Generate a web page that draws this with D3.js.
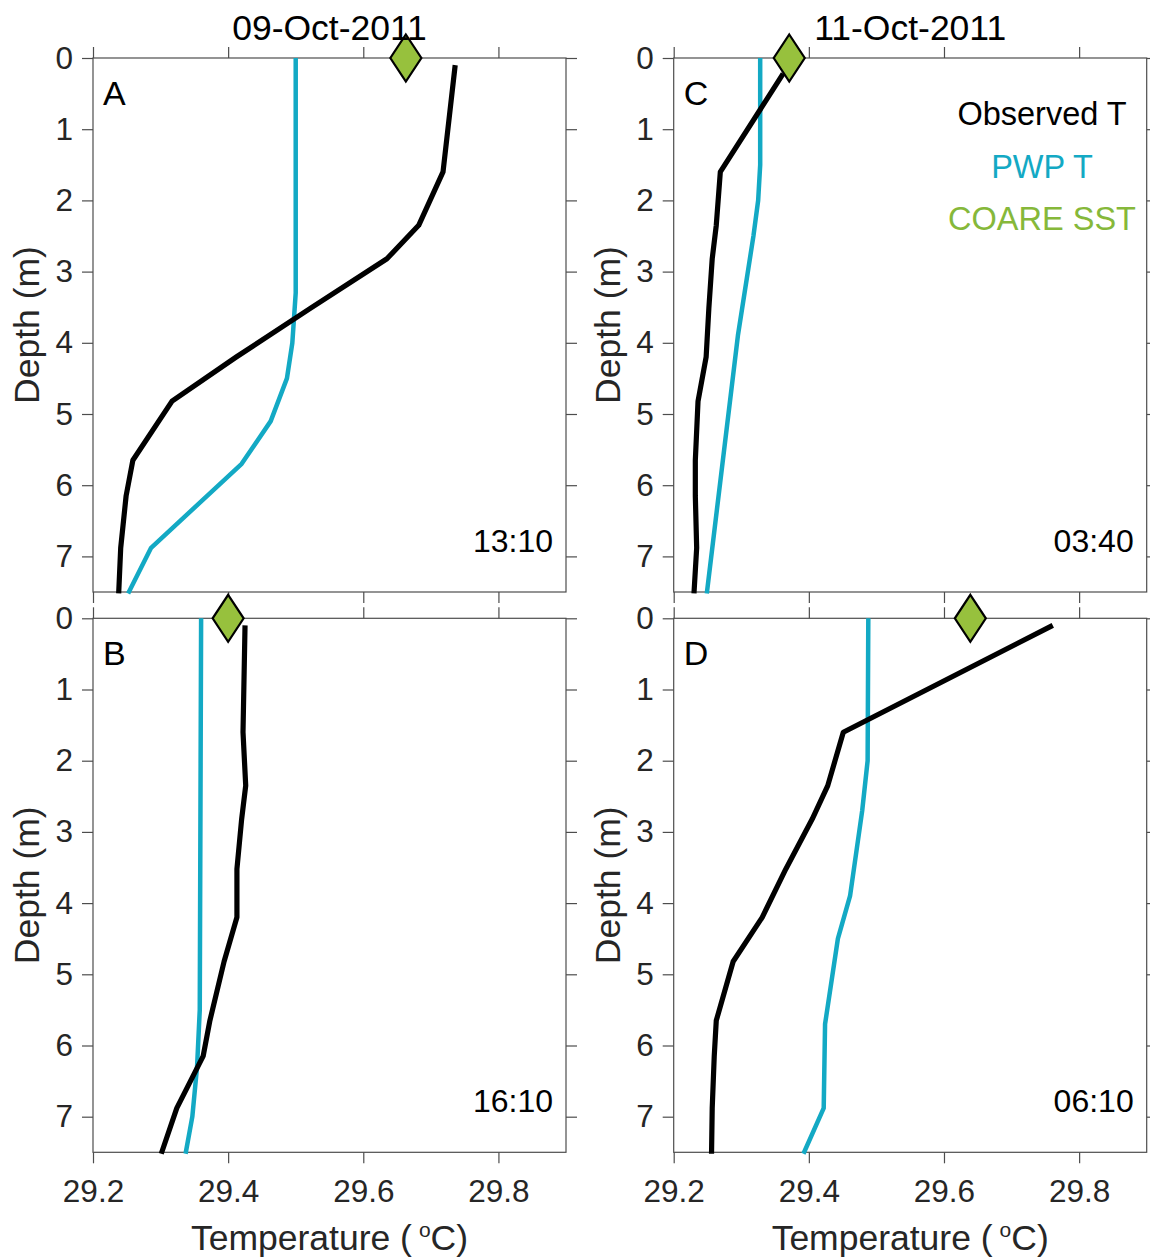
<!DOCTYPE html>
<html>
<head>
<meta charset="utf-8">
<script src="https://cdn.jsdelivr.net/npm/d3@7"></script>
<style>
  html, body { margin: 0; padding: 0; background: #fff; }
  svg { display: block; font-family: "Liberation Sans", Arial, Helvetica, sans-serif; }
</style>
</head>
<body>
<svg id="chart" width="1150" height="1258"></svg>
<script>
// ---------------- DATA ----------------
const titles = ["09-Oct-2011", "11-Oct-2011"];
const panelLetters = ["A", "B", "C", "D"];
const panelTimes = ["13:10", "16:10", "03:40", "06:10"];
const xTickValues = [29.2, 29.4, 29.6, 29.8];
const yTickValues = [0, 1, 2, 3, 4, 5, 6, 7];
const legendLabels = ["Observed T", "PWP T", "COARE SST"];

// observed sensor depths (m)
const obsDepths = [0.1, 1.6, 2.35, 2.82, 3.52, 4.2, 4.82, 5.65, 6.15, 6.88, 7.52];
const obsDepthsC = [0.22, 1.6, 2.35, 2.82, 3.52, 4.2, 4.82, 5.65, 6.15, 6.88, 7.52];
// observed temperatures (°C)
const obsA = [29.736, 29.718, 29.682, 29.635, 29.521, 29.412, 29.317, 29.259, 29.249, 29.241, 29.238];
const obsB = [29.425, 29.422, 29.426, 29.420, 29.413, 29.413, 29.394, 29.373, 29.363, 29.324, 29.301];
const obsC = [29.362, 29.269, 29.263, 29.257, 29.252, 29.248, 29.236, 29.232, 29.232, 29.234, 29.230];
const obsD = [29.761, 29.451, 29.428, 29.405, 29.366, 29.331, 29.288, 29.263, 29.260, 29.257, 29.256];

// PWP model profiles
const pwpDepthA = [0, 3.3, 4.0, 4.5, 5.1, 5.7, 6.88, 7.52];
const pwpA = [29.500, 29.500, 29.495, 29.487, 29.463, 29.420, 29.286, 29.252];
const pwpDepthB = [0, 5.5, 6.3, 7.0, 7.52];
const pwpB = [29.360, 29.358, 29.354, 29.347, 29.337];
const pwpDepthC = [0, 1.5, 2.0, 2.5, 3.9, 7.52];
const pwpC = [29.328, 29.328, 29.325, 29.318, 29.295, 29.249];
const pwpDepthD = [0, 2.0, 2.7, 3.9, 4.5, 5.7, 6.88, 7.52];
const pwpD = [29.488, 29.487, 29.479, 29.461, 29.443, 29.424, 29.422, 29.392];

// COARE skin SST (at depth 0)
const coareSST = [29.663, 29.400, 29.371, 29.639];

// ---------------- LAYOUT ----------------
const colObs = "#000000";
const colPwp = "#13a9c4";
const colCoare = "#97c13d";
const colCoareText = "#86b83a";
const axisCol = "#4d4d4d";
const textCol = "#262626";

const xDomain = [29.2, 29.9];
const yDomain = [0, 7.5];
const cols = [[93, 566], [673.7, 1146.7]];
const rows = [[58, 592], [618.3, 1152.3]];

const panels = [
  { col: 0, row: 0, obsDepth: obsDepths, obs: obsA, pwpDepth: pwpDepthA, pwp: pwpA, sst: coareSST[0], letter: panelLetters[0], time: panelTimes[0] },
  { col: 0, row: 1, obsDepth: obsDepths, obs: obsB, pwpDepth: pwpDepthB, pwp: pwpB, sst: coareSST[1], letter: panelLetters[1], time: panelTimes[1] },
  { col: 1, row: 0, obsDepth: obsDepthsC, obs: obsC, pwpDepth: pwpDepthC, pwp: pwpC, sst: coareSST[2], letter: panelLetters[2], time: panelTimes[2] },
  { col: 1, row: 1, obsDepth: obsDepths, obs: obsD, pwpDepth: pwpDepthD, pwp: pwpD, sst: coareSST[3], letter: panelLetters[3], time: panelTimes[3] }
];

const svg = d3.select("#chart");
svg.append("rect").attr("width", 1150).attr("height", 1258).attr("fill", "#fff");

const tickLen = 11;
const tickFont = 31.5;

panels.forEach(p => {
  const x = d3.scaleLinear().domain(xDomain).range(cols[p.col]);
  const y = d3.scaleLinear().domain(yDomain).range(rows[p.row]);
  const g = svg.append("g");

  // axes (outward ticks on all four sides)
  const left = g.append("g").attr("transform", `translate(${x.range()[0]},0)`)
    .call(d3.axisLeft(y).tickValues(yTickValues).tickSize(tickLen).tickPadding(9).tickFormat(d3.format("d")));
  const right = g.append("g").attr("transform", `translate(${x.range()[1]},0)`)
    .call(d3.axisRight(y).tickValues(yTickValues).tickSize(tickLen).tickFormat(""));
  const top = g.append("g").attr("transform", `translate(0,${y.range()[0]})`)
    .call(d3.axisTop(x).tickValues(xTickValues).tickSize(tickLen).tickFormat(""));
  const bottom = g.append("g").attr("transform", `translate(0,${y.range()[1]})`)
    .call(d3.axisBottom(x).tickValues(xTickValues).tickSize(tickLen).tickPadding(16)
      .tickFormat(p.row === 1 ? d3.format(".1f") : ""));
  [left, right, top, bottom].forEach(a => {
    a.select(".domain").attr("stroke", axisCol).attr("stroke-width", 1.2)
      .attr("d", null);
    a.selectAll(".tick line").attr("stroke", axisCol).attr("stroke-width", 1.2);
    a.selectAll(".tick text").attr("fill", textCol).attr("font-size", tickFont)
      .attr("font-family", "'Liberation Sans', Arial, sans-serif");
  });
  // box outline
  g.append("rect")
    .attr("x", x.range()[0]).attr("y", y.range()[0])
    .attr("width", x.range()[1] - x.range()[0]).attr("height", y.range()[1] - y.range()[0])
    .attr("fill", "none").attr("stroke", axisCol).attr("stroke-width", 1.2);

  // lines
  const line = d3.line().x(d => x(d[0])).y(d => y(d[1]));
  g.append("path")
    .datum(p.pwp.map((t, i) => [t, p.pwpDepth[i]]))
    .attr("d", line).attr("fill", "none").attr("stroke", colPwp).attr("stroke-width", 4.5)
    .attr("stroke-linejoin", "round");
  g.append("path")
    .datum(p.obs.map((t, i) => [t, p.obsDepth[i]]))
    .attr("d", line).attr("fill", "none").attr("stroke", colObs).attr("stroke-width", 5.2)
    .attr("stroke-linejoin", "round");

  // COARE diamond
  const cx = x(p.sst), cy = y(0);
  const hw = 15.5, hh = 23.5;
  g.append("path")
    .attr("d", `M${cx},${cy - hh}L${cx + hw},${cy}L${cx},${cy + hh}L${cx - hw},${cy}Z`)
    .attr("fill", colCoare).attr("stroke", "#000").attr("stroke-width", 2.2)
    .attr("stroke-linejoin", "miter");

  // panel letter and time
  g.append("text").attr("x", x.range()[0] + 10).attr("y", y.range()[0] + 47)
    .attr("font-size", 34).attr("fill", "#000").text(p.letter);
  g.append("text").attr("x", x.range()[1] - 13).attr("y", y.range()[0] + 494)
    .attr("text-anchor", "end").attr("font-size", 32).attr("fill", "#000").text(p.time);

  // y label
  const yc = (y.range()[0] + y.range()[1]) / 2;
  g.append("text").attr("transform", `translate(${x.range()[0] - 54},${yc}) rotate(-90)`)
    .attr("text-anchor", "middle").attr("font-size", 35.5).attr("fill", textCol).text("Depth (m)");

  // x label for bottom row
  if (p.row === 1) {
    const xc = (x.range()[0] + x.range()[1]) / 2;
    const t = g.append("text").attr("x", xc).attr("y", 1250)
      .attr("text-anchor", "middle").attr("font-size", 35.5).attr("fill", textCol);
    t.append("tspan").text("Temperature (");
    t.append("tspan").attr("font-size", 21).attr("dy", -13).attr("dx", 7).text("o");
    t.append("tspan").attr("dy", 13).text("C)");
  }
  // titles for top row
  if (p.row === 0) {
    const xc = (x.range()[0] + x.range()[1]) / 2;
    g.append("text").attr("x", xc).attr("y", 40)
      .attr("text-anchor", "middle").attr("font-size", 35.5).attr("fill", "#000").text(titles[p.col]);
  }
});

// legend (in panel C)
const legendColors = ["#000000", colPwp, colCoareText];
svg.append("g").selectAll("text").data(legendLabels).join("text")
  .attr("x", 1042).attr("y", (d, i) => 125 + i * 52.5)
  .attr("text-anchor", "middle").attr("font-size", 32.5)
  .attr("fill", (d, i) => legendColors[i]).text(d => d);
</script>
</body>
</html>
